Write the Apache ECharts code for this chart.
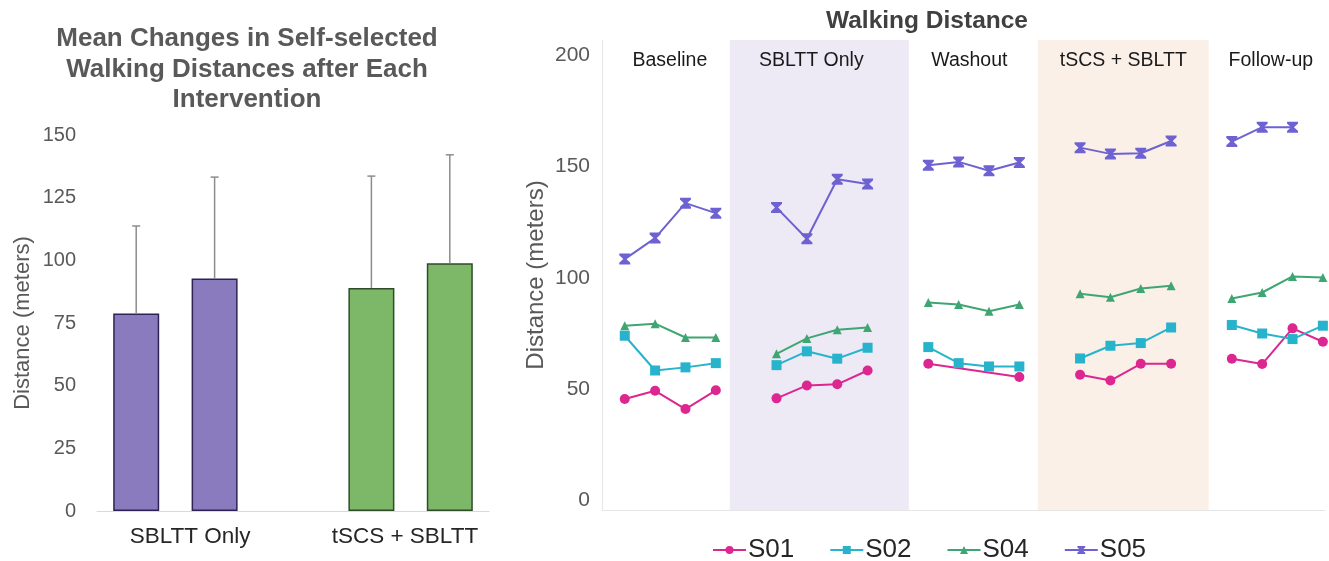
<!DOCTYPE html>
<html>
<head>
<meta charset="utf-8">
<script src="https://cdn.jsdelivr.net/npm/echarts@6/dist/echarts.min.js"></script>
<style>
html,body{margin:0;padding:0;background:#fff;}
#chart{width:1329px;height:561px;}
</style>
</head>
<body>
<div id="chart"></div>
<script>
// ---------- Left chart data ----------
const groupLabels = ['SBLTT Only', 'tSCS + SBLTT'];
const sblttMeans = [78.8, 92.8];
const sblttUpper = [113.7, 133.2];
const tscsMeans = [89.0, 98.8];
const tscsUpper = [133.6, 142.1];
const leftTicks = [0, 25, 50, 75, 100, 125, 150];

// ---------- Right chart data ----------
const phases = ['Baseline', 'SBLTT Only', 'Washout', 'tSCS + SBLTT', 'Follow-up'];
const phaseStart = [-0.75, 3.46, 9.36, 13.61, 19.24];
const phaseEnd = [3.46, 9.36, 13.61, 19.24, 23.07];
const subjects = ['S01', 'S02', 'S04', 'S05'];
const s01 = [45.6, 49.3, 41.1, 49.5, 45.9, 51.7, 52.2, 58.4, 61.4, null, null, 55.5, 56.5, 53.9, 61.4, 61.4, 63.7, 61.3, 77.3, 71.3];
const s02 = [74.0, 58.4, 59.8, 61.7, 60.8, 67.0, 63.7, 68.6, 68.9, 61.7, 60.2, 60.2, 63.8, 69.5, 70.7, 77.7, 78.8, 75.0, 72.5, 78.5];
const s04 = [78.5, 79.4, 73.2, 73.2, 65.9, 72.8, 76.7, 77.7, 88.9, 88.0, 85.0, 88.0, 92.8, 91.3, 95.2, 96.4, 90.7, 93.4, 100.6, 100.1];
const s05 = [108.4, 117.8, 133.5, 129.0, 131.5, 117.5, 144.2, 142.1, 150.5, 152.0, 148.0, 151.7, 158.4, 155.6, 155.9, 161.4, 161.1, 167.6, 167.6, null];
const rightTicks = [0, 50, 100, 150, 200];

// ---------- styles ----------
const FONT = '"Liberation Sans", Arial, Helvetica, sans-serif';
const subjValues = [s01, s02, s04, s05];
const subjColors = ['#DC2690', '#27B3CB', '#3FA673', '#6E62D2'];
const hourglass = 'path://M0,0 L10,0 L10,1.6 L6.4,5 L10,8.4 L10,10 L0,10 L0,8.4 L3.6,5 L0,1.6 Z';
const subjSymbols = ['circle', 'rect', 'triangle', hourglass];
const subjSizes = [10, 10, 9, 11];
const bandColors = ['rgba(0,0,0,0)', '#EDE9F5', 'rgba(0,0,0,0)', '#FBF0E7', 'rgba(0,0,0,0)'];
const labelOffsets = [4, -8, -4, 0, 4];

// Left bar slots: 2 bars, gap, 2 bars
const barSlots = [sblttMeans[0], sblttMeans[1], '-', tscsMeans[0], tscsMeans[1]];
const upperSlots = [sblttUpper[0], sblttUpper[1], null, tscsUpper[0], tscsUpper[1]];
const slotNames = ['a', groupLabels[0], 'gap', groupLabels[1], 'b'];
const barFill = ['#8A7BBF', '#8A7BBF', null, '#7DB869', '#7DB869'];
const barBorder = ['#2C2452', '#2C2452', null, '#2F4B2A', '#2F4B2A'];

const barData = barSlots.map((v, i) => v === '-' ? '-' : {
  value: v,
  itemStyle: { color: barFill[i], borderColor: barBorder[i], borderWidth: 1.5 }
});
const errData = [];
barSlots.forEach((v, i) => { if (v !== '-') errData.push([i, v, upperSlots[i]]); });

// Right line series: one per subject per phase (shared legend name)
const lineSeries = [];
subjects.forEach((name, si) => {
  phases.forEach((ph, pi) => {
    const pts = [];
    for (let k = 0; k < 4; k++) {
      const v = subjValues[si][pi * 4 + k];
      if (v !== null) pts.push([pi * 5 + k, v]);
    }
    lineSeries.push({
      type: 'line', name: name, xAxisIndex: 1, yAxisIndex: 1,
      data: pts, symbol: subjSymbols[si], symbolSize: subjSizes[si],
      color: subjColors[si],
      lineStyle: { width: 2, color: subjColors[si] },
      itemStyle: { color: subjColors[si] },
      z: 5, animation: false, silent: true
    });
  });
});

const bandSeries = {
  type: 'line', name: 'bands', xAxisIndex: 1, yAxisIndex: 1, data: [], silent: true,
  markArea: {
    silent: true,
    data: phases.map((ph, i) => [
      { xAxis: phaseStart[i], name: ph, itemStyle: { color: bandColors[i] },
        label: { offset: [labelOffsets[i], 0] } },
      { xAxis: phaseEnd[i] }
    ]),
    label: { show: true, position: 'insideTop', distance: 11, color: '#1a1a1a', fontSize: 19.5, fontFamily: FONT }
  }
};

const chart = echarts.init(document.getElementById('chart'), null, { renderer: 'canvas' });
chart.setOption({
  animation: false,
  backgroundColor: '#ffffff',
  textStyle: { fontFamily: FONT },
  title: [
    { text: 'Mean Changes in Self-selected\nWalking Distances after Each\nIntervention',
      left: 242, top: 19, textAlign: 'center',
      textStyle: { fontSize: 26, fontWeight: 'bold', color: '#595959', lineHeight: 30.5, fontFamily: FONT } },
    { text: 'Walking Distance', left: 922, top: 4, textAlign: 'center',
      textStyle: { fontSize: 24.5, fontWeight: 'bold', color: '#404040', fontFamily: FONT } }
  ],
  legend: {
    data: subjects, left: 707, top: 532, itemWidth: 33, itemHeight: 10, itemGap: 35,
    textStyle: { fontSize: 26, color: '#262626', fontFamily: FONT, padding: [0, 0, 0, -3] }
  },
  grid: [
    { left: 97, right: 840, top: 135, bottom: 50 },
    { left: 602, right: 4, top: 40, bottom: 51 }
  ],
  xAxis: [
    { type: 'category', gridIndex: 0, data: slotNames,
      axisLine: { lineStyle: { color: '#d9d9d9', width: 1 } },
      axisTick: { show: false },
      axisLabel: {
        interval: 0, margin: 14,
        formatter: (v, i) => i === 1 ? '{a|' + v + '}' : (i === 3 ? '{b|' + v + '}' : ''),
        rich: {
          a: { fontSize: 22.5, color: '#262626', fontFamily: FONT, padding: [0, 49, 0, 0] },
          b: { fontSize: 22.5, color: '#262626', fontFamily: FONT, padding: [0, 0, 0, 67] }
        }
      }
    },
    { type: 'value', gridIndex: 1, min: -0.75, max: 23.07,
      axisLine: { show: true, onZero: false, lineStyle: { color: '#e6e6e6' } },
      axisTick: { show: false }, axisLabel: { show: false }, splitLine: { show: false } }
  ],
  yAxis: [
    { type: 'value', gridIndex: 0, min: 0, max: 150, interval: 25,
      axisLine: { show: false }, axisTick: { show: false }, splitLine: { show: false },
      axisLabel: { fontSize: 20, color: '#595959', margin: 21, fontFamily: FONT },
      name: 'Distance (meters)', nameLocation: 'middle', nameRotate: 90, nameGap: 63,
      nameTextStyle: { fontSize: 22, color: '#595959', fontFamily: FONT } },
    { type: 'value', gridIndex: 1, min: -4.2, max: 206.7,
      axisLine: { show: true, onZero: false, lineStyle: { color: '#e6e6e6' } },
      axisTick: { show: false }, splitLine: { show: false },
      axisLabel: { customValues: rightTicks, fontSize: 21, color: '#595959', margin: 12, fontFamily: FONT },
      name: 'Distance (meters)', nameLocation: 'middle', nameRotate: 90, nameGap: 54,
      nameMoveOverlap: false,
      nameTextStyle: { fontSize: 24, color: '#595959', fontFamily: FONT } }
  ],
  series: [
    { type: 'bar', xAxisIndex: 0, yAxisIndex: 0, data: barData, barWidth: 46, z: 2, silent: true },
    { type: 'custom', xAxisIndex: 0, yAxisIndex: 0, data: errData, z: 3, silent: true,
      renderItem: function (params, api) {
        const x = api.value(0);
        const lo = api.coord([x, api.value(1)]);
        const hi = api.coord([x, api.value(2)]);
        const cap = 4;
        return { type: 'group', children: [
          { type: 'line', shape: { x1: lo[0], y1: lo[1], x2: hi[0], y2: hi[1] }, style: { stroke: '#8c8c8c', lineWidth: 1.5 } },
          { type: 'line', shape: { x1: hi[0] - cap, y1: hi[1], x2: hi[0] + cap, y2: hi[1] }, style: { stroke: '#8c8c8c', lineWidth: 1.5 } }
        ] };
      }
    },
    bandSeries
  ].concat(lineSeries)
});
</script>
</body>
</html>
